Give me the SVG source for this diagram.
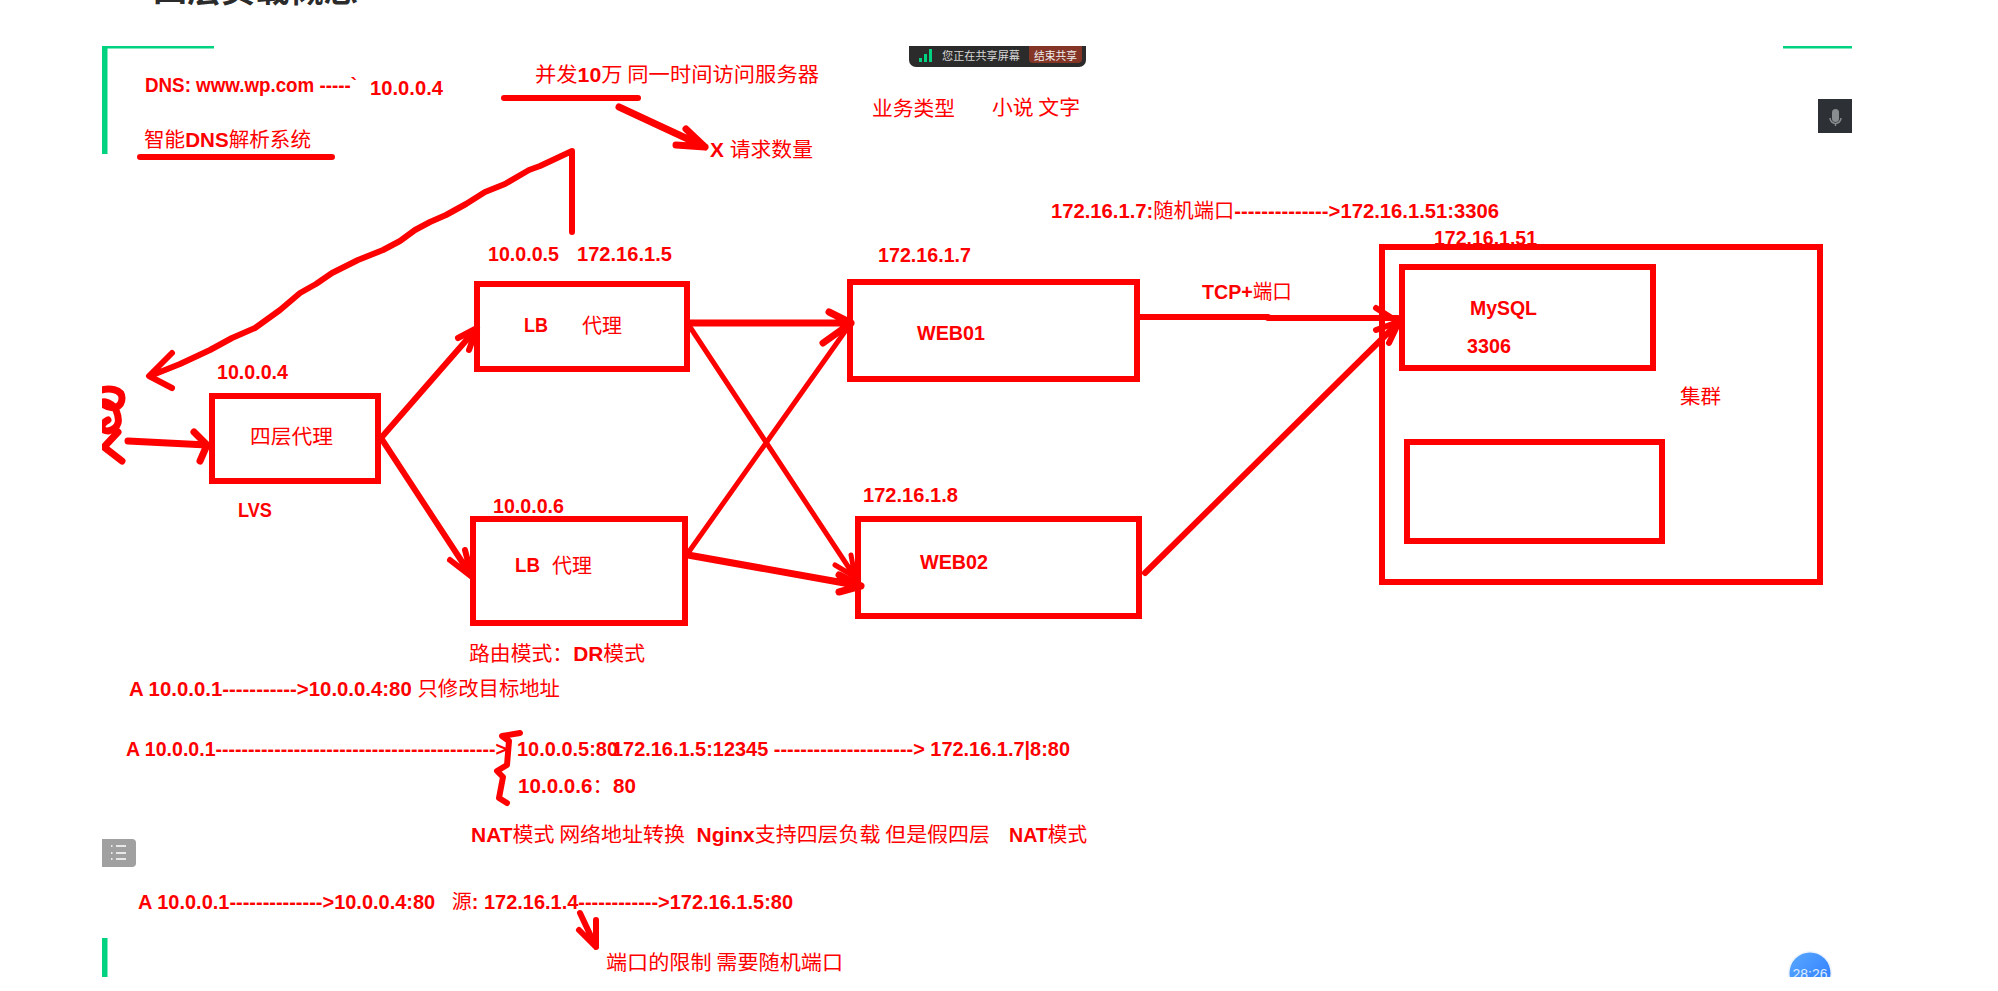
<svg xmlns="http://www.w3.org/2000/svg" width="1998" height="991" viewBox="0 0 1998 991">
<style>
text{font-family:"Liberation Sans","Noto Sans CJK SC",sans-serif;font-size:20px;font-weight:700;fill:#f00;white-space:pre}
.z{font-family:"Noto Sans CJK SC",sans-serif;font-weight:400}
.box{fill:none;stroke:#f00;stroke-width:6}
.hand{fill:none;stroke:#f00;stroke-width:6;stroke-linecap:round;stroke-linejoin:round}
.thin{stroke-width:5}
.thick{stroke-width:7}
.green{fill:#00d27f}
</style>
<defs>
<clipPath id="page"><rect x="102" y="0" width="1750" height="977"/></clipPath>
<linearGradient id="blue" x1="0" y1="0" x2="1" y2="1"><stop offset="0" stop-color="#5aa9ff"/><stop offset="1" stop-color="#2a78ff"/></linearGradient>
</defs>
<rect width="1998" height="991" fill="#fff"/>
<g id="page-title"><text x="153" y="2" textLength="205" lengthAdjust="spacingAndGlyphs" style="font-size:34px;fill:#2b2b2b;font-family:'Noto Sans CJK SC',sans-serif">四层负载概念</text></g>
<g id="page-chrome">
<rect class="green" x="102" y="46" width="112" height="2.5"/>
<rect class="green" x="102" y="46" width="5.5" height="108"/>
<rect class="green" x="1783" y="46" width="69" height="2.5"/>
<rect class="green" x="102" y="938" width="5.5" height="39"/>
<path d="M909 46H1086V60a7 7 0 0 1-7 7H916a7 7 0 0 1-7-7Z" fill="#2b2b2b"/>
<rect class="green" x="919" y="58" width="3" height="4"/><rect class="green" x="924" y="54" width="3" height="8"/><rect class="green" x="929" y="49" width="3" height="13"/>
<text x="942" y="60" textLength="78" lengthAdjust="spacingAndGlyphs" style="font-size:11px;fill:#d8d8d8" class="z">您正在共享屏幕</text>
<path d="M1029 46H1082V59a4 4 0 0 1-4 4H1033a4 4 0 0 1-4-4Z" fill="#853526"/>
<text x="1034" y="60" textLength="43" lengthAdjust="spacingAndGlyphs" style="font-size:11px;fill:#eee" class="z">结束共享</text>
<rect x="1818" y="99" width="34" height="34" fill="#2d3135"/>
<rect x="1832" y="109" width="7" height="13" rx="3.500" fill="#8a8d90"/><path d="M1830 118a5 5 0 0 0 11 0M1835.500 123v3" fill="none" stroke="#8a8d90" stroke-width="1.500"/>
<path d="M102 839H132a4 4 0 0 1 4 4V863a4 4 0 0 1-4 4H102Z" fill="#a0a0a0"/>
<path d="M111 846h1.500M116 846h10M111 853h1.500M116 853h10M111 859h1.500M116 859h10" stroke="#fff" stroke-width="1.500" fill="none"/>
<g clip-path="url(#page)">
<circle cx="1810" cy="973" r="22" fill="#eef4fb"/><circle cx="1810" cy="973" r="20.500" fill="url(#blue)"/>
<text x="1810" y="979" text-anchor="middle" style="font-size:14px;font-weight:400;fill:#dcebff">28:26</text>
</g>
</g>
<g id="connectors">
<path class="hand" d="M504 98H638"/>
<path class="hand" d="M140 157H332"/>
<path class="hand thick" d="M619 107L705 147M686 129L705 147L676 145"/>
<path class="hand" d="M572 232V151L540 166L529 170L505 184L485 192L466 204L446 215L430 222L415 230L400 241L383 250L358 260L332 273L316 284L300 293L280 310L255 328L232 338L210 350L180 364L150 376M172 353L149 376L172 388"/>
<path class="hand thick" d="M128 441L207 445M194 432L207 445L200 461"/>
<path class="hand" d="M381 438L477 328M458 338L477 328L469 350"/>
<path class="hand" d="M381 438L472 577M450 560L472 577L465 550"/>
<path class="hand thick" d="M690 323H851M829 312L851 323L823 343"/>
<path class="hand thin" d="M690 327L855 577M835 565L855 577L851 555"/>
<path class="hand thin" d="M688 553L851 323"/>
<path class="hand thick" d="M688 555L861 586M839 575L861 586L839 592"/>
<path class="hand" d="M1140 317H1268V318H1398M1376 308L1398 322L1376 330"/>
<path class="hand" d="M1145 573L1399 322M1389 343L1399 322"/>
<path class="hand thick" clip-path="url(#page)" d="M96 392C110 386 122 390 122 398C122 408 112 410 104 405C98 400 110 400 116 410C120 420 120 428 108 431C100 431 100 424 108 420M118 432L104 447L122 461"/>
<path class="hand" d="M520 733L502 736L509 741L507 765L497 771L503 777L499 798L507 803"/>
<path class="hand" d="M580 913L596 947M596 920L596 947L579 930"/>
</g>
<g id="node-lvs"><rect class="box" x="212" y="396" width="166" height="85"/><text x="250" y="444" textLength="83" lengthAdjust="spacingAndGlyphs" class="z">四层代理</text><text x="217" y="379" textLength="71" lengthAdjust="spacingAndGlyphs">10.0.0.4</text><text x="238" y="517" textLength="34" lengthAdjust="spacingAndGlyphs">LVS</text></g>
<g id="node-lb1"><rect class="box" x="477" y="284" width="210" height="85"/><text x="488" y="261" textLength="71" lengthAdjust="spacingAndGlyphs">10.0.0.5</text><text x="577" y="261" textLength="95" lengthAdjust="spacingAndGlyphs">172.16.1.5</text><text x="524" y="332" textLength="24" lengthAdjust="spacingAndGlyphs">LB</text><text x="582" y="333" textLength="40" lengthAdjust="spacingAndGlyphs" class="z">代理</text></g>
<g id="node-lb2"><rect class="box" x="473" y="519" width="212" height="104"/><text x="493" y="513" textLength="71" lengthAdjust="spacingAndGlyphs">10.0.0.6</text><text x="515" y="572" textLength="25" lengthAdjust="spacingAndGlyphs">LB</text><text x="552" y="573" textLength="40" lengthAdjust="spacingAndGlyphs" class="z">代理</text></g>
<g id="node-web01"><rect class="box" x="850" y="282" width="287" height="97"/><text x="878" y="262" textLength="93" lengthAdjust="spacingAndGlyphs">172.16.1.7</text><text x="917" y="340" textLength="68" lengthAdjust="spacingAndGlyphs">WEB01</text></g>
<g id="node-web02"><rect class="box" x="858" y="519" width="281" height="97"/><text x="863" y="502" textLength="95" lengthAdjust="spacingAndGlyphs">172.16.1.8</text><text x="920" y="569" textLength="68" lengthAdjust="spacingAndGlyphs">WEB02</text></g>
<g id="node-cluster"><text x="1434" y="245" textLength="103" lengthAdjust="spacingAndGlyphs">172.16.1.51</text><rect class="box" x="1382" y="247" width="438" height="335"/><text x="1680" y="404" textLength="41" lengthAdjust="spacingAndGlyphs" class="z">集群</text></g>
<g id="node-mysql"><rect class="box" x="1402" y="267" width="251" height="101"/><text x="1470" y="315" textLength="67" lengthAdjust="spacingAndGlyphs">MySQL</text><text x="1467" y="353" textLength="44" lengthAdjust="spacingAndGlyphs">3306</text></g>
<g id="node-mysql2"><rect class="box" x="1407" y="442" width="255" height="99"/></g>
<g id="labels">
<text x="145" y="92" textLength="212" lengthAdjust="spacingAndGlyphs">DNS: www.wp.com -----`</text>
<text x="370" y="95" textLength="73" lengthAdjust="spacingAndGlyphs">10.0.0.4</text>
<text x="144" y="147" textLength="167" lengthAdjust="spacingAndGlyphs"><tspan class="z">智能</tspan>DNS<tspan class="z">解析系统</tspan></text>
<text x="535" y="82" textLength="284" lengthAdjust="spacingAndGlyphs"><tspan class="z">并发</tspan>10<tspan class="z">万 同一时间访问服务器</tspan></text>
<text x="710" y="157" textLength="103" lengthAdjust="spacingAndGlyphs">X <tspan class="z">请求数量</tspan></text>
<text x="872" y="116" textLength="83" lengthAdjust="spacingAndGlyphs" class="z">业务类型</text>
<text x="992" y="115" textLength="88" lengthAdjust="spacingAndGlyphs" class="z">小说 文字</text>
<text x="1051" y="218" textLength="448" lengthAdjust="spacingAndGlyphs">172.16.1.7:<tspan class="z">随机端口</tspan>--------------&gt;172.16.1.51:3306</text>
<text x="1202" y="299" textLength="90" lengthAdjust="spacingAndGlyphs">TCP+<tspan class="z">端口</tspan></text>
<text x="469" y="661" textLength="176" lengthAdjust="spacingAndGlyphs"><tspan class="z">路由模式：</tspan>DR<tspan class="z">模式</tspan></text>
<text x="129" y="696" textLength="431" lengthAdjust="spacingAndGlyphs">A 10.0.0.1-----------&gt;10.0.0.4:80 <tspan class="z">只修改目标地址</tspan></text>
<text x="126" y="756" textLength="381" lengthAdjust="spacingAndGlyphs">A 10.0.0.1-------------------------------------------&gt;</text>
<text x="517" y="756" textLength="101" lengthAdjust="spacingAndGlyphs">10.0.0.5:80</text>
<text x="612" y="756" textLength="458" lengthAdjust="spacingAndGlyphs">172.16.1.5:12345 ---------------------&gt; 172.16.1.7|8:80</text>
<text x="518" y="793" textLength="118" lengthAdjust="spacingAndGlyphs">10.0.0.6<tspan class="z">：</tspan>80</text>
<text x="471" y="842" textLength="519" lengthAdjust="spacingAndGlyphs">NAT<tspan class="z">模式 网络地址转换</tspan>  Nginx<tspan class="z">支持四层负载 但是假四层</tspan></text>
<text x="1009" y="842" textLength="78" lengthAdjust="spacingAndGlyphs">NAT<tspan class="z">模式</tspan></text>
<text x="138" y="909" textLength="655" lengthAdjust="spacingAndGlyphs">A 10.0.0.1--------------&gt;10.0.0.4:80   <tspan class="z">源</tspan>: 172.16.1.4------------&gt;172.16.1.5:80</text>
<text x="606" y="970" textLength="237" lengthAdjust="spacingAndGlyphs" class="z">端口的限制 需要随机端口</text>
</g>
</svg>
